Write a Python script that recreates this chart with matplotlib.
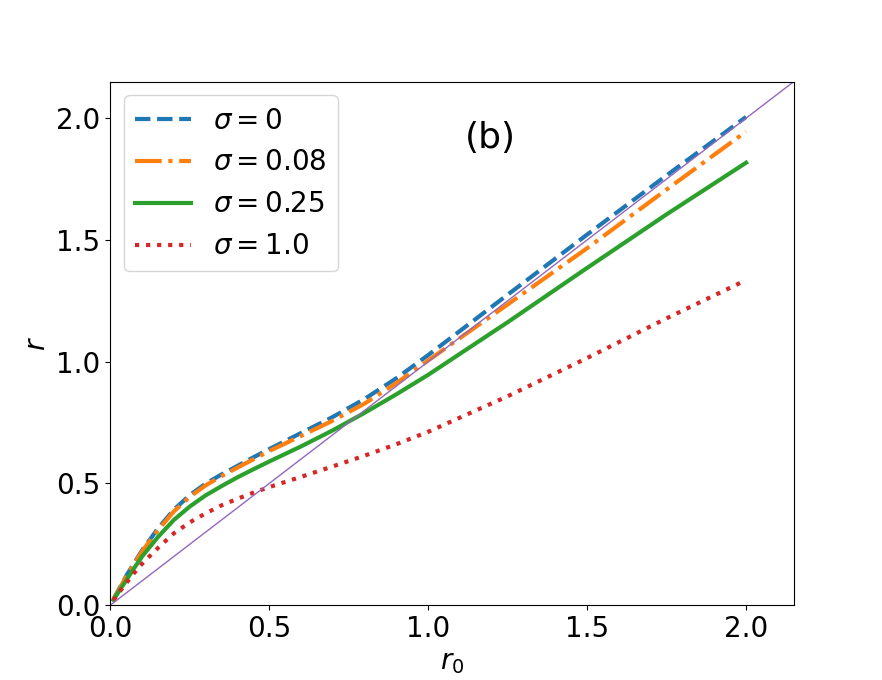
import matplotlib
matplotlib.use("Agg")
import matplotlib.pyplot as plt

# radii
r0 = [0.01, 0.025, 0.05, 0.075, 0.1, 0.15, 0.2, 0.25, 0.3, 0.35, 0.4, 0.45,
      0.5, 0.6, 0.7, 0.8, 0.9, 1.0, 1.25, 1.5, 1.75, 2.0]

r_s0 = [0.025, 0.06, 0.12, 0.173, 0.225, 0.315, 0.392, 0.452, 0.499, 0.537, 0.572,
        0.607, 0.641, 0.707, 0.773, 0.847, 0.932, 1.027, 1.275, 1.522, 1.765, 2.005]
r_s008 = [0.025, 0.058, 0.117, 0.17, 0.221, 0.308, 0.385, 0.445, 0.492, 0.53, 0.565,
          0.599, 0.633, 0.695, 0.758, 0.828, 0.912, 1.005, 1.235, 1.466, 1.707, 1.945]
r_s025 = [0.022, 0.052, 0.102, 0.152, 0.2, 0.28, 0.35, 0.405, 0.451, 0.489, 0.525,
          0.558, 0.59, 0.652, 0.718, 0.79, 0.866, 0.946, 1.162, 1.385, 1.605, 1.817]
r_s1 = [0.02, 0.048, 0.09, 0.132, 0.17, 0.235, 0.295, 0.34, 0.377, 0.41, 0.437,
        0.462, 0.485, 0.527, 0.57, 0.614, 0.661, 0.712, 0.858, 1.015, 1.178, 1.335]

labels = [r'$\sigma=0$', r'$\sigma=0.08$', r'$\sigma=0.25$', r'$\sigma=1.0$']

fig, ax = plt.subplots(figsize=(8.82, 6.8), dpi=100)

ax.plot(r0, r_s0, '--', color='tab:blue', lw=3, label=labels[0])
ax.plot(r0, r_s008, '-.', color='tab:orange', lw=3, label=labels[1])
ax.plot(r0, r_s025, '-', color='tab:green', lw=3, label=labels[2])
ax.plot(r0, r_s1, ':', color='tab:red', lw=3, label=labels[3])

lim = 2.15
ax.plot([0, lim], [0, lim], color='tab:purple', lw=1)  # r = r0

ax.set_xlim(0, lim)
ax.set_ylim(0, lim)
ax.set_xticks([0.0, 0.5, 1.0, 1.5, 2.0])
ax.set_yticks([0.0, 0.5, 1.0, 1.5, 2.0])
ax.tick_params(labelsize=20)
ax.set_xlabel(r'$r_0$', fontsize=20)
ax.set_ylabel(r'$r$', fontsize=20)
ax.text(0.556, 0.893, '(b)', transform=ax.transAxes, fontsize=26,
        ha='center', va='center')
ax.legend(loc='upper left', fontsize=20)

fig.savefig('out.png', dpi=100)
